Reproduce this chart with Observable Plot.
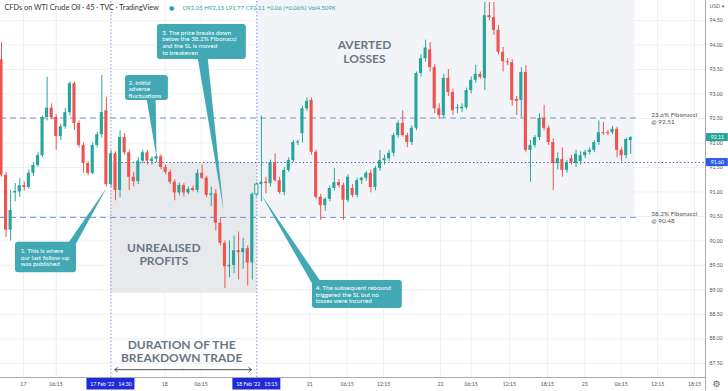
<!DOCTYPE html>
<html><head><meta charset="utf-8">
<script src="https://cdn.jsdelivr.net/npm/d3@7"></script>
<script src="https://cdn.jsdelivr.net/npm/@observablehq/plot@0.6"></script>
<style>body{margin:0;background:#fff} #chart svg{display:block}</style>
</head><body><div id="chart"></div>
<script>
// 45-minute candles, index 0..138
const open = [93.70,91.34,90.22,90.98,91.00,91.13,91.09,91.38,91.54,91.74,
92.52,92.71,92.52,92.13,92.33,92.62,93.21,92.40,91.95,91.58,
91.38,91.95,92.17,92.66,91.15,91.78,91.03,92.11,91.80,91.30,
91.21,91.63,91.80,91.62,91.67,91.72,91.50,91.40,91.20,90.98,
91.13,90.98,91.07,91.03,91.38,91.28,90.93,90.96,90.36,89.95,
89.47,89.50,89.80,89.76,89.84,89.55,90.95,91.15,91.20,91.17,
91.60,91.23,90.99,91.44,91.64,92.00,92.19,92.70,92.87,91.81,
90.89,90.72,90.85,91.07,91.19,91.13,90.83,91.07,90.93,91.23,
91.28,91.38,91.09,91.48,91.64,91.68,91.79,92.15,92.40,92.15,
92.01,92.30,93.42,93.72,93.90,93.54,92.70,92.56,93.32,93.03,
92.70,92.70,92.72,93.07,93.28,93.40,93.32,94.60,94.56,94.30,
93.85,93.66,93.64,92.89,92.87,93.44,91.85,91.95,92.11,92.50,
92.30,92.01,91.58,91.66,91.44,91.68,91.58,91.62,91.74,91.81,
91.85,92.01,92.21,92.21,92.21,92.28,91.85,91.74,92.05];
const high = [94.05,91.40,91.03,91.17,91.27,91.20,91.45,91.60,91.80,92.55,
93.34,92.80,92.58,92.38,92.70,93.25,93.25,92.45,92.00,91.62,
92.00,92.22,93.38,92.93,91.85,91.82,92.25,92.19,91.85,91.40,
91.70,91.85,91.85,91.72,91.76,91.76,91.55,91.45,91.25,91.18,
91.17,91.10,91.12,91.45,91.55,91.32,91.10,91.05,90.45,90.00,
90.00,90.10,90.18,90.05,89.90,90.98,91.19,92.55,91.30,91.65,
91.78,91.30,91.50,91.70,92.05,92.06,92.75,92.92,92.92,91.85,
90.95,90.88,91.12,91.48,91.25,91.18,91.35,91.15,91.28,91.30,
91.42,91.45,91.52,91.85,91.75,91.85,92.20,92.45,92.66,92.20,
92.35,93.45,93.80,94.10,94.05,93.60,92.80,93.40,93.50,93.10,
92.78,92.80,93.12,93.35,93.58,93.45,94.87,94.87,94.87,94.40,
93.95,93.72,93.70,92.95,93.54,93.58,92.05,92.15,92.60,92.77,
92.35,92.08,91.80,91.90,91.65,91.75,91.85,91.82,91.85,91.90,
92.05,92.45,92.42,92.26,92.34,92.32,91.90,92.10,92.13];
const low = [91.30,90.07,90.00,90.80,90.89,91.02,91.05,91.32,91.50,91.70,
92.45,92.48,91.85,92.05,92.28,92.55,92.25,91.90,91.38,91.33,
91.35,91.90,92.10,91.10,91.10,90.82,90.88,91.75,91.03,91.10,
91.15,91.58,91.55,91.55,91.60,91.45,91.35,91.15,90.82,90.92,
90.90,90.94,91.00,90.98,91.25,90.88,90.70,90.20,89.90,89.03,
89.25,89.33,89.20,89.42,89.08,89.20,90.90,90.80,90.96,91.10,
91.20,90.95,90.92,91.40,91.60,91.95,92.00,92.65,91.75,90.85,
90.42,90.60,90.80,91.02,91.08,90.42,90.78,90.88,90.88,91.15,
91.22,90.98,91.02,91.42,91.55,91.62,91.72,92.10,92.12,91.90,
91.95,92.25,93.35,93.65,93.45,92.60,92.48,92.50,92.95,92.56,
92.60,92.62,92.68,93.00,93.22,93.30,93.07,94.50,94.20,93.80,
93.45,93.58,92.75,92.56,92.52,91.80,91.20,91.90,92.05,92.25,
91.95,91.03,91.45,91.30,91.38,91.55,91.50,91.55,91.68,91.75,
91.80,91.95,92.15,92.15,92.17,91.70,91.62,91.68,91.77];
const close = [91.34,90.22,90.62,91.01,91.13,91.09,91.38,91.54,91.74,92.52,
92.71,92.52,92.13,92.33,92.62,93.21,92.40,91.95,91.58,91.38,
91.95,92.17,92.62,91.15,91.78,91.03,92.11,91.80,91.30,91.21,
91.63,91.80,91.63,91.67,91.72,91.50,91.40,91.20,90.98,91.13,
90.98,91.05,91.03,91.38,91.28,90.93,90.96,90.36,89.95,89.47,
89.50,89.80,89.76,89.84,89.55,90.95,91.15,91.20,91.17,91.60,
91.23,90.99,91.44,91.64,92.01,92.02,92.70,92.85,91.81,90.89,
90.72,90.85,91.07,91.19,91.13,90.83,91.30,90.93,91.23,91.28,
91.38,91.09,91.48,91.64,91.68,91.79,92.15,92.40,92.15,92.01,
92.30,93.42,93.72,93.94,93.54,92.70,92.56,93.32,93.03,92.66,
92.72,92.73,93.07,93.28,93.40,93.34,94.60,94.56,94.30,93.85,
93.66,93.64,92.87,92.85,93.44,91.85,91.95,92.11,92.50,92.30,
92.01,91.58,91.68,91.44,91.60,91.60,91.77,91.74,91.81,91.85,
92.01,92.21,92.19,92.19,92.28,91.85,91.74,92.07,92.11];

const tickPos    = [4.8, 12, 35.8, 43.8, 67.6, 75.8, 83.8, 96.3, 103, 111.4, 119.7, 127.9, 135.9, 143.9, 152];
const tickLabels = ["17","06:15","18","06:15","21","06:15","12:15","22","06:15","12:15","18:15","23","06:15","12:15","18:15"];
const priceTicks = [87.5,88,88.5,89,89.5,90,90.5,91,91.5,92,92.5,93,93.5,94,94.5];

const fibLevels = [{p:92.51, label:"23.6% Fibonacci\n@ 92.51"},{p:90.48, label:"38.2% Fibonacci\n@ 90.48"}];
const stopLevel = 91.60;
const entryIdx = 24, exitIdx = 56;
const dateLabels = [{i:24, text:"17 Feb '22   14:30"},{i:56, text:"18 Feb '22   15:15"}];

const zones = [
  {k:"averted", x1:56.1, x2:139, y1:90.48, y2:94.91},
  {k:"unrealised", x1:24, x2:56.1, y1:88.93, y2:91.60}
];
const bigLabels = [
  {i:35.6, p:89.73, text:"UNREALISED\nPROFITS"},
  {i:79.6, p:93.86, text:"AVERTED\nLOSSES"},
  {i:39.5, p:87.75, text:"DURATION OF THE\nBREAKDOWN TRADE"}
];
const callouts = [
  {x1:3.07, x2:16.45, y1:89.35, y2:89.97, ti:4.2, tp:89.66, text:"1. This is where\nour last follow-up\nwas published"},
  {x1:27.2, x2:36.6, y1:92.87, y2:93.38, ti:27.85, tp:93.10, text:"2. Initial\nadverse\nfluctuations"},
  {x1:34.2, x2:53.7, y1:93.705, y2:94.42, ti:35.24, tp:94.05, text:"3. The price breaks down\nbelow the 38.2% Fibonacci\nand the SL is moved\nto breakeven"},
  {x1:68.2, x2:87.9, y1:88.62, y2:89.19, ti:68.9, tp:88.90, text:"4. The subsequent rebound\ntriggered the SL but no\nlosses were incurred"}
];
const pointers = [
  {k:1,i:14.2,p:89.9},{k:1,i:16.4,p:89.95},{k:1,i:23.1,p:91.09},
  {k:2,i:31.8,p:92.92},{k:2,i:33.8,p:92.92},{k:2,i:34.0,p:91.70},
  {k:3,i:43.0,p:93.75},{k:3,i:45.2,p:93.75},{k:3,i:48.7,p:90.62},
  {k:4,i:68.3,p:89.1},{k:4,i:70.0,p:89.17},{k:4,i:56.8,p:90.97}
];
const durationArrow = [{x1:39.8, x2:24.85, p:87.37},{x1:39.8, x2:54.8, p:87.37}];

const teal = "#26a69a", red = "#ef5350", callout = "#42a9b4", slate = "#6b7684";
const candles = open.map((o,i)=>({i, o, h:high[i], l:low[i], c:close[i]}));
const col = d => d.c >= d.o ? teal : red;
const labelMap = new Map(tickPos.map((t,j)=>[t, tickLabels[j]]));
const lastClose = close[close.length-1];
const X0 = -0.219, X1 = 154.39, Y0 = 87.21, Y1 = 94.91;

const chart = Plot.plot({
  width: 728, height: 391,
  marginTop: 0, marginRight: 23, marginBottom: 14, marginLeft: 0,
  x: {domain: [X0, X1], axis: null},
  y: {domain: [Y0, Y1], axis: null},
  color: {type: "identity"},
  style: {fontFamily: "Lato, sans-serif", background: "#fff"},
  marks: [
    Plot.gridY(priceTicks, {stroke: "#eef0f4", strokeOpacity: 1}),
    Plot.gridX(tickPos, {stroke: "#eef0f4", strokeOpacity: 1}),
    Plot.rect(zones, {x1:"x1", x2:"x2", y1:"y1", y2:"y2", fill: d => d.k === "averted" ? "#f2f3f6" : "#e6e7eb", fillOpacity: 0.92}),
    Plot.ruleY(fibLevels, {y: "p", x1: X0, x2: 140.1, stroke: "#7396c2", strokeDasharray: "6,4", strokeWidth: 1}),
    Plot.ruleY([stopLevel], {x1: entryIdx, x2: X1, stroke: "#3557d6", strokeDasharray: "1.3,2.4", strokeWidth: 1.1}),
    Plot.ruleX([entryIdx, exitIdx], {y1: Y0, y2: Y1, stroke: "#8f8fdc", strokeDasharray: "1.5,2", strokeWidth: 1}),
    Plot.ruleX(candles, {x: "i", y1: "l", y2: "h", stroke: col, strokeWidth: 1}),
    Plot.rect(candles, {x1: d => d.i - 0.34, x2: d => d.i + 0.34, y1: d => Math.min(d.o, d.c), y2: d => Math.max(d.o, d.c), fill: col}),
    Plot.rect(candles.filter(d => d.i === exitIdx), {x1: d => d.i - 0.34, x2: d => d.i + 0.34, y1: "o", y2: "c", fill: "#ffffff", stroke: teal, strokeWidth: 1}),
    // callouts
    Plot.line(pointers, {x: "i", y: "p", z: "k", fill: callout, stroke: "none"}),
    Plot.rect(callouts, {x1:"x1", x2:"x2", y1:"y1", y2:"y2", fill: callout, rx: 3}),
    Plot.text(callouts, {x: "ti", y: "tp", text: "text", fill: "#fff", fontSize: 6.3, lineHeight: 1.05, textAnchor: "start", lineAnchor: "middle"}),
    // big labels
    Plot.text(bigLabels, {x: "i", y: "p", text: "text", fill: slate, fontSize: 12, fontWeight: 700, lineHeight: 1.15, textAnchor: "middle", lineAnchor: "middle"}),
    Plot.arrow(durationArrow, {x1: "x1", x2: "x2", y1: "p", y2: "p", stroke: "#555", strokeWidth: 1, headLength: 5, headAngle: 80}),
    // fib labels
    Plot.text(fibLevels, {x: 142.5, y: "p", text: "label", fill: "#555", fontSize: 6.4, lineHeight: 1.05, textAnchor: "start", lineAnchor: "middle"}),
    // axes
    Plot.ruleY([Y0], {x1: X0, x2: X1, stroke: "#a8abb3"}),
    Plot.ruleX([X1], {y1: 86.93, y2: Y1, stroke: "#a8abb3"}),
    Plot.axisY(priceTicks, {anchor: "right", tickSize: 0, tickPadding: 4, tickFormat: d3.format(".2f"), fontSize: 5.2, fill: "#555", label: null}),
    Plot.axisX(tickPos, {anchor: "bottom", tickSize: 0, tickPadding: 4.5, tickFormat: d => labelMap.get(d), fontSize: 5.2, fill: "#555", label: null}),
    // price tags
    Plot.rect([{p: lastClose, f: teal}, {p: stopLevel, f: "#2b5ce6"}], {x1: 154.6, x2: 159.4, y1: d => d.p - 0.082, y2: d => d.p + 0.082, fill: "f"}),
    Plot.text([lastClose, stopLevel], {x: 157, y: d => d, text: d => d.toFixed(2), fill: "#fff", fontSize: 5.2, textAnchor: "middle", lineAnchor: "middle"}),
    // date tags
    Plot.rect(dateLabels, {x1: d => d.i - 5.26, x2: d => d.i + 5.26, y1: 86.955, y2: 87.19, fill: "#1f2ad8"}),
    Plot.text(dateLabels, {x: "i", y: 87.07, text: "text", fill: "#fff", fontSize: 5.2, textAnchor: "middle", lineAnchor: "middle"}),
    // header
    Plot.text(["CFDs on WTI Crude Oil · 45 · TVC · TradingView"], {frameAnchor: "top-left", dx: 4, dy: 4, textAnchor: "start", lineAnchor: "top", fontSize: 7.3, fill: "#333"}),
    Plot.text(["●"], {frameAnchor: "top-left", dx: 171, dy: 8, textAnchor: "middle", lineAnchor: "middle", fontSize: 6, fill: teal, fontFamily: "DejaVu Sans"}),
    Plot.text(["O92.05 H92.13 L91.77 C92.11 +0.06 (+0.06%) Vol4.509K"], {frameAnchor: "top-left", dx: 182, dy: 5, textAnchor: "start", lineAnchor: "top", fontSize: 6, fill: teal}),
    Plot.text(["USD ▾"], {frameAnchor: "top-right", dx: 4, dy: 4, textAnchor: "start", lineAnchor: "top", fontSize: 5, fill: "#555", fontFamily: "DejaVu Sans"}),
    Plot.text(["⚙"], {frameAnchor: "bottom-right", dx: 11, dy: 7, textAnchor: "middle", lineAnchor: "middle", fontSize: 9, fill: "#666", fontFamily: "DejaVu Sans"})
  ]
});
document.getElementById("chart").appendChild(chart);
</script></body></html>
